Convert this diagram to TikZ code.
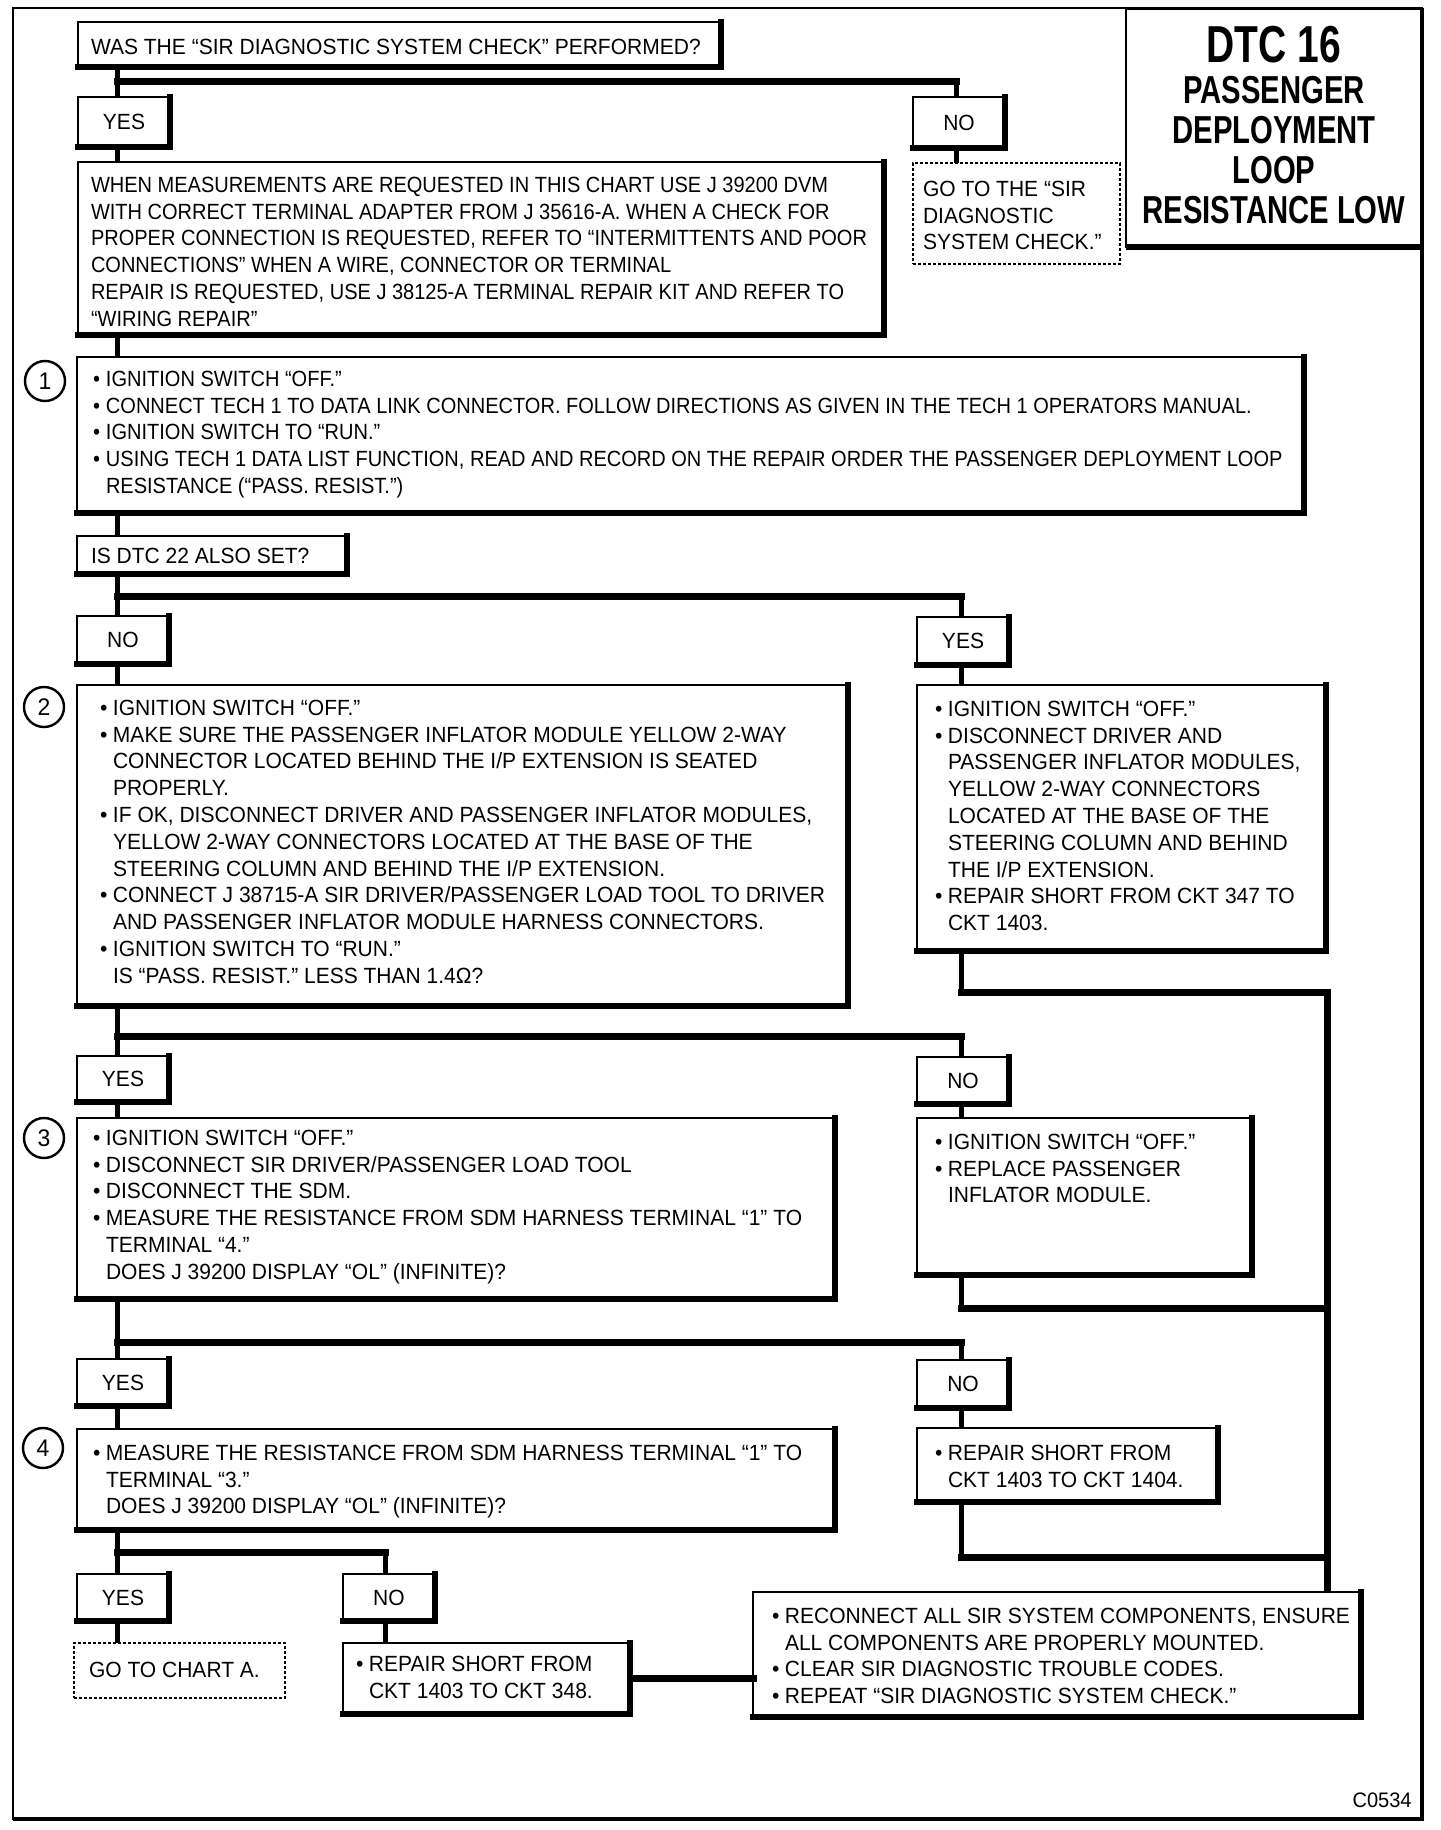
\documentclass[tikz,border=0pt]{standalone}
\usepackage{fontspec}
\setmainfont{Liberation Sans}
\newfontfamily\bodyfont{Liberation Sans}[FakeStretch=0.955]
\newfontfamily\narrowfont{Liberation Sans}[FakeStretch=0.91]
\usetikzlibrary{fit,calc}
\newcommand{\bu}{\makebox[6.5pt][l]{•}}
\newcommand{\ind}{\hspace*{6.5pt}}
\begin{document}
\begin{tikzpicture}[x=0.5pt,y=-0.5pt,
  box/.style={draw, line width=1.4pt, fill=white, inner sep=0pt, outer sep=0pt},
  lab/.style={box},
  dbox/.style={draw, line width=0.9pt, dash pattern=on 1.6pt off 0.9pt, fill=white, inner sep=0pt, outer sep=0pt},
  txt/.style={anchor=north west, inner sep=0pt, outer sep=0pt, align=left, font=\bodyfont\fontsize{11}{13.4}\selectfont},
  ntxt/.style={txt, font=\narrowfont\fontsize{11}{13.4}\selectfont},
  lbl/.style={inner sep=0pt, font=\bodyfont\fontsize{11}{13.4}\selectfont},
  conn/.style={line width=2.5pt},
  branch/.style={line width=3.5pt, line cap=rect},
  num/.style={circle, draw, line width=1.2pt, fill=white, minimum size=20pt, inner sep=0pt, font=\bodyfont\fontsize{12}{12}\selectfont},
  ttl/.style={inner sep=0pt, font=\fontsize{19.5}{20}\selectfont\bfseries},
  shadow/.style={line width=2.6pt, line cap=rect}
]
\useasboundingbox (0,0) rectangle (1440,1830);

% spine coordinates
\coordinate (sp) at (117,0);
\coordinate (sq) at (956,0);
\coordinate (sr) at (961,0);
\coordinate (s5) at (385,0);
\coordinate (rail) at (1327,0);
\coordinate (b1) at (0,82);
\coordinate (b2) at (0,596);
\coordinate (b3) at (0,1036);
\coordinate (b4) at (0,1342);
\coordinate (b5) at (0,1552);
\coordinate (r1) at (0,992);
\coordinate (r2) at (0,1308);
\coordinate (r3) at (0,1557);

% outer frame
\node[draw, line width=1.1pt, inner sep=0pt, outer sep=0pt, fit={(13,8) (1422,1819)}] (frame) {};
\draw[line width=2pt] (frame.north east) -- (frame.south east) -- (frame.south west);

% boxes
\node[box, fit={(78,22) (721,67)}] (q1) {};
\node[lab, fit={(78,97) (170,147)}] (yes1) {};
\node[lab, fit={(913,97) (1005,148)}] (no1) {};
\node[box, fit={(78,162) (884,335)}] (info) {};
\node[dbox, fit={(913,163) (1120,264)}] (no1t) {};
\node[box, fit={(77,357) (1304,513)}] (s1) {};
\node[box, fit={(77,536) (347,574)}] (dtc) {};
\node[lab, fit={(77,616) (169,664)}] (no2) {};
\node[lab, fit={(917,617) (1009,665)}] (yes2) {};
\node[box, fit={(77,685) (848,1006)}] (s2) {};
\node[box, fit={(917,685) (1326,951)}] (y2b) {};
\node[lab, fit={(77,1056) (169,1102)}] (yes3) {};
\node[lab, fit={(917,1057) (1009,1104)}] (no3) {};
\node[box, fit={(77,1118) (835,1299)}] (s3) {};
\node[box, fit={(917,1118) (1252,1275)}] (n3b) {};
\node[lab, fit={(77,1359) (169,1406)}] (yes4) {};
\node[lab, fit={(917,1360) (1009,1408)}] (no4) {};
\node[box, fit={(77,1429) (835,1530)}] (s4) {};
\node[box, fit={(917,1428) (1218,1502)}] (n4b) {};
\node[lab, fit={(77,1574) (169,1621)}] (yes5) {};
\node[lab, fit={(343,1574) (435,1621)}] (no5) {};
\node[dbox, fit={(74,1643) (285,1698)}] (cha) {};
\node[box, fit={(343,1643) (630,1714)}] (n5b) {};
\node[box, fit={(753,1592) (1361,1717)}] (fin) {};
\node[box, fit={(1126,9) (1421,247)}] (title) {};

% connectors
\draw[conn] (q1.south -| sp) -- (yes1.north -| sp);
\draw[branch] (sp |- b1) -- (sq |- b1);
\draw[conn] (sq |- b1) -- (no1.north -| sq);
\draw[conn] (yes1.south -| sp) -- (info.north -| sp);
\draw[conn] (no1.south -| sq) -- (no1t.north -| sq);
\draw[conn] (info.south -| sp) -- (s1.north -| sp);
\draw[conn] (s1.south -| sp) -- (dtc.north -| sp);
\draw[conn] (dtc.south -| sp) -- (no2.north -| sp);
\draw[branch] (sp |- b2) -- (sr |- b2);
\draw[conn] (sr |- b2) -- (yes2.north -| sr);
\draw[conn] (no2.south -| sp) -- (s2.north -| sp);
\draw[conn] (yes2.south -| sr) -- (y2b.north -| sr);
\draw[conn] (s2.south -| sp) -- (yes3.north -| sp);
\draw[branch] (sp |- b3) -- (sr |- b3);
\draw[conn] (sr |- b3) -- (no3.north -| sr);
\draw[conn] (yes3.south -| sp) -- (s3.north -| sp);
\draw[conn] (no3.south -| sr) -- (n3b.north -| sr);
\draw[conn] (s3.south -| sp) -- (yes4.north -| sp);
\draw[branch] (sp |- b4) -- (sr |- b4);
\draw[conn] (sr |- b4) -- (no4.north -| sr);
\draw[conn] (yes4.south -| sp) -- (s4.north -| sp);
\draw[conn] (no4.south -| sr) -- (n4b.north -| sr);
\draw[conn] (s4.south -| sp) -- (yes5.north -| sp);
\draw[branch] (sp |- b5) -- (s5 |- b5);
\draw[conn] (s5 |- b5) -- (no5.north -| s5);
\draw[conn] (yes5.south -| sp) -- (cha.north -| sp);
\draw[conn] (no5.south -| s5) -- (n5b.north -| s5);
% return paths to final box
\draw[conn] (y2b.south -| sr) -- (sr |- r1);
\draw[branch] (sr |- r1) -- (rail |- r1);
\draw[conn] (n3b.south -| sr) -- (sr |- r2);
\draw[branch] (sr |- r2) -- (rail |- r2);
\draw[conn] (n4b.south -| sr) -- (sr |- r3);
\draw[branch] (sr |- r3) -- (rail |- r3);
\draw[line width=3.5pt] (rail |- r1) -- (fin.north -| rail);
\draw[branch] (n5b.east |- 0,1678) -- (fin.west |- 0,1678);

% shadow edges
\foreach \n in {q1,yes1,no1,info,s1,dtc,no2,yes2,s2,y2b,yes3,no3,s3,n3b,yes4,no4,s4,n4b,yes5,no5,n5b,fin}
  \draw[shadow] (\n.north east) -- (\n.south east) -- (\n.south west);
\draw[line width=3pt] (title.south west) -- (title.south east);

% yes / no labels
\node[lbl] (l1y) at (yes1.center) {YES};
\node[lbl] (l1n) at (no1.center) {NO};
\node[lbl] (l2n) at (no2.center) {NO};
\node[lbl] (l2y) at (yes2.center) {YES};
\node[lbl] (l3y) at (yes3.center) {YES};
\node[lbl] (l3n) at (no3.center) {NO};
\node[lbl] (l4y) at (yes4.center) {YES};
\node[lbl] (l4n) at (no4.center) {NO};
\node[lbl] (l5y) at (yes5.center) {YES};
\node[lbl] (l5n) at (no5.center) {NO};

% step numbers
\node[num] (c1) at (45,381) {1};
\node[num] (c2) at (44,707) {2};
\node[num] (c3) at (44,1138) {3};
\node[num] (c4) at (43,1448) {4};

% title
\node[ttl, font=\fontsize{26}{26}\selectfont\bfseries] (t0) at (1274,45) {\scalebox{0.75}[1]{DTC 16}};
\node[ttl] (t1) at (1274,90) {\scalebox{0.75}[1]{PASSENGER}};
\node[ttl] (t2) at (1274,130) {\scalebox{0.75}[1]{DEPLOYMENT}};
\node[ttl] (t3) at (1274,170) {\scalebox{0.75}[1]{LOOP}};
\node[ttl] (t4) at (1274,210) {\scalebox{0.75}[1]{RESISTANCE LOW}};

% texts
\node[txt] (q1t) at (91,39) {WAS THE “SIR DIAGNOSTIC SYSTEM CHECK” PERFORMED?};
\node[ntxt] (infot) at (91,177) {WHEN MEASUREMENTS ARE REQUESTED IN THIS CHART USE J 39200 DVM\\
WITH CORRECT TERMINAL ADAPTER FROM J 35616-A. WHEN A CHECK FOR\\
PROPER CONNECTION IS REQUESTED, REFER TO “INTERMITTENTS AND POOR\\
CONNECTIONS” WHEN A WIRE, CONNECTOR OR TERMINAL\\
REPAIR IS REQUESTED, USE J 38125-A TERMINAL REPAIR KIT AND REFER TO\\
“WIRING REPAIR”};
\node[txt] (no1tt) at (923,181) {GO TO THE “SIR\\ DIAGNOSTIC\\ SYSTEM CHECK.”};
\node[ntxt] (s1t) at (93,371) {\bu IGNITION SWITCH “OFF.”\\
\bu CONNECT TECH 1 TO DATA LINK CONNECTOR. FOLLOW DIRECTIONS AS GIVEN IN THE TECH 1 OPERATORS MANUAL.\\
\bu IGNITION SWITCH TO “RUN.”\\
\bu USING TECH 1 DATA LIST FUNCTION, READ AND RECORD ON THE REPAIR ORDER THE PASSENGER DEPLOYMENT LOOP\\
\ind RESISTANCE (“PASS. RESIST.”)};
\node[txt] (dtct) at (91,548) {IS DTC 22 ALSO SET?};
\node[txt] (s2t) at (100,700) {\bu IGNITION SWITCH “OFF.”\\
\bu MAKE SURE THE PASSENGER INFLATOR MODULE YELLOW 2-WAY\\
\ind CONNECTOR LOCATED BEHIND THE I/P EXTENSION IS SEATED\\
\ind PROPERLY.\\
\bu IF OK, DISCONNECT DRIVER AND PASSENGER INFLATOR MODULES,\\
\ind YELLOW 2-WAY CONNECTORS LOCATED AT THE BASE OF THE\\
\ind STEERING COLUMN AND BEHIND THE I/P EXTENSION.\\
\bu CONNECT J 38715-A SIR DRIVER/PASSENGER LOAD TOOL TO DRIVER\\
\ind AND PASSENGER INFLATOR MODULE HARNESS CONNECTORS.\\
\bu IGNITION SWITCH TO “RUN.”\\
\ind IS “PASS. RESIST.” LESS THAN 1.4Ω?};
\node[txt] (y2t) at (935,701) {\bu IGNITION SWITCH “OFF.”\\
\bu DISCONNECT DRIVER AND\\
\ind PASSENGER INFLATOR MODULES,\\
\ind YELLOW 2-WAY CONNECTORS\\
\ind LOCATED AT THE BASE OF THE\\
\ind STEERING COLUMN AND BEHIND\\
\ind THE I/P EXTENSION.\\
\bu REPAIR SHORT FROM CKT 347 TO\\
\ind CKT 1403.};
\node[txt] (s3t) at (93,1130) {\bu IGNITION SWITCH “OFF.”\\
\bu DISCONNECT SIR DRIVER/PASSENGER LOAD TOOL\\
\bu DISCONNECT THE SDM.\\
\bu MEASURE THE RESISTANCE FROM SDM HARNESS TERMINAL “1” TO\\
\ind TERMINAL “4.”\\
\ind DOES J 39200 DISPLAY “OL” (INFINITE)?};
\node[txt] (n3t) at (935,1134) {\bu IGNITION SWITCH “OFF.”\\
\bu REPLACE PASSENGER\\
\ind INFLATOR MODULE.};
\node[txt] (s4t) at (93,1445) {\bu MEASURE THE RESISTANCE FROM SDM HARNESS TERMINAL “1” TO\\
\ind TERMINAL “3.”\\
\ind DOES J 39200 DISPLAY “OL” (INFINITE)?};
\node[txt] (n4t) at (935,1445) {\bu REPAIR SHORT FROM\\
\ind CKT 1403 TO CKT 1404.};
\node[txt] (chat) at (89,1662) {GO TO CHART A.};
\node[txt] (n5t) at (356,1656) {\bu REPAIR SHORT FROM\\
\ind CKT 1403 TO CKT 348.};
\node[txt] (fint) at (772,1608) {\bu RECONNECT ALL SIR SYSTEM COMPONENTS, ENSURE\\
\ind ALL COMPONENTS ARE PROPERLY MOUNTED.\\
\bu CLEAR SIR DIAGNOSTIC TROUBLE CODES.\\
\bu REPEAT “SIR DIAGNOSTIC SYSTEM CHECK.”};
\node[anchor=east, inner sep=0pt, font=\bodyfont\fontsize{10.5}{12}\selectfont] (code) at (1412,1800) {C0534};
\end{tikzpicture}
\end{document}
